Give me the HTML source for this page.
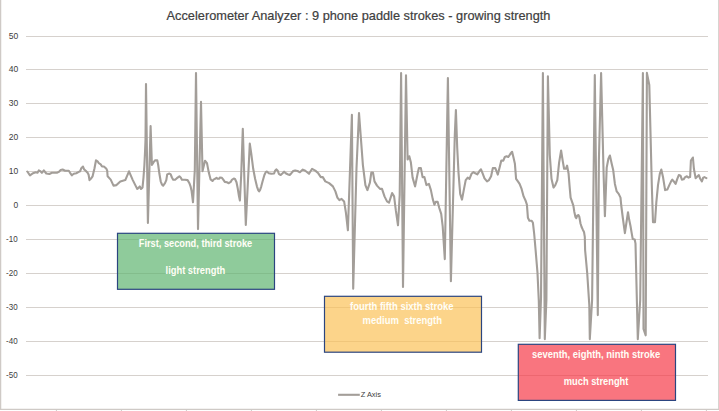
<!DOCTYPE html>
<html><head><meta charset="utf-8"><title>Accelerometer Analyzer</title>
<style>
html,body{margin:0;padding:0;background:#fff;overflow:hidden}
svg{display:block;font-family:"Liberation Sans",sans-serif}
</style></head>
<body>
<svg width="719" height="411" viewBox="0 0 719 411">
<rect width="719" height="411" fill="#fff"/>
<g stroke="#d6d1cd" stroke-width="1" shape-rendering="crispEdges"><line x1="26.3" x2="708" y1="36.5" y2="36.5"/><line x1="26.3" x2="708" y1="69.5" y2="69.5"/><line x1="26.3" x2="708" y1="103.5" y2="103.5"/><line x1="26.3" x2="708" y1="137.5" y2="137.5"/><line x1="26.3" x2="708" y1="171.5" y2="171.5"/><line x1="26.3" x2="708" y1="205.5" y2="205.5"/><line x1="26.3" x2="708" y1="239.5" y2="239.5"/><line x1="26.3" x2="708" y1="273.5" y2="273.5"/><line x1="26.3" x2="708" y1="307.5" y2="307.5"/><line x1="26.3" x2="708" y1="341.5" y2="341.5"/><line x1="26.3" x2="708" y1="375.5" y2="375.5"/></g>
<g stroke="#cfcac6" fill="none">
<line x1="0.6" x2="0.6" y1="0" y2="410" stroke-width="1.3"/>
<line x1="718.7" x2="718.7" y1="0" y2="410" stroke-width="1"/>
<line x1="0" x2="719" y1="409.3" y2="409.3" stroke-width="1.3"/>
<g stroke-width="1"><line x1="56.4" x2="56.4" y1="409" y2="411"/><line x1="121.4" x2="121.4" y1="409" y2="411"/><line x1="186.4" x2="186.4" y1="409" y2="411"/><line x1="251.4" x2="251.4" y1="409" y2="411"/><line x1="316.4" x2="316.4" y1="409" y2="411"/><line x1="381.4" x2="381.4" y1="409" y2="411"/><line x1="446.4" x2="446.4" y1="409" y2="411"/><line x1="511.4" x2="511.4" y1="409" y2="411"/><line x1="576.4" x2="576.4" y1="409" y2="411"/><line x1="641.4" x2="641.4" y1="409" y2="411"/><line x1="706.4" x2="706.4" y1="409" y2="411"/></g>
</g>
<text x="166.6" y="19.9" font-size="12.8" fill="#404040" stroke="#404040" stroke-width="0.2" textLength="383.8" lengthAdjust="spacingAndGlyphs">Accelerometer Analyzer : 9 phone paddle strokes - growing strength</text>
<g font-size="8.6" fill="#404040"><text x="8.8" y="39" textLength="9.5" lengthAdjust="spacingAndGlyphs">50</text><text x="8.8" y="72" textLength="9.5" lengthAdjust="spacingAndGlyphs">40</text><text x="8.8" y="106" textLength="9.5" lengthAdjust="spacingAndGlyphs">30</text><text x="8.8" y="140" textLength="9.5" lengthAdjust="spacingAndGlyphs">20</text><text x="8.8" y="174" textLength="9.5" lengthAdjust="spacingAndGlyphs">10</text><text x="13.6" y="208" textLength="4.7" lengthAdjust="spacingAndGlyphs">0</text><text x="6" y="242" textLength="11.6" lengthAdjust="spacingAndGlyphs">-10</text><text x="6" y="276" textLength="11.6" lengthAdjust="spacingAndGlyphs">-20</text><text x="6" y="310" textLength="11.6" lengthAdjust="spacingAndGlyphs">-30</text><text x="6" y="344" textLength="11.6" lengthAdjust="spacingAndGlyphs">-40</text><text x="6" y="378" textLength="11.6" lengthAdjust="spacingAndGlyphs">-50</text></g>
<polyline fill="none" stroke="#a39e99" stroke-width="2.1" stroke-linejoin="round" stroke-linecap="round" points="27.3,171.5 30.0,175.3 33.1,173.2 35.6,172.3 37.5,172.8 38.8,170.4 40.7,171.5 41.9,172.8 43.8,170.4 46.3,173.5 49.4,174.0 51.9,172.8 56.9,172.8 58.8,171.9 60.7,170.0 62.6,169.5 65.1,170.7 68.8,170.7 70.1,172.8 71.9,175.3 73.8,173.8 76.3,173.2 78.8,171.9 80.1,171.3 81.3,168.2 83.0,166.5 84.1,169.4 85.7,170.7 87.6,172.8 88.6,174.8 89.5,180.1 91.3,178.2 92.6,176.3 94.5,168.2 96.0,160.3 97.6,161.3 98.8,163.2 100.7,164.4 102.0,166.5 103.9,166.5 106.4,168.8 107.2,170.7 107.6,176.3 110.7,179.6 110.7,179.6 113.5,185.6 116.5,185.1 120.3,181.4 125.3,180.1 129.0,171.3 132.8,180.1 135.3,185.1 137.3,188.9 139.8,186.4 141.0,189.0 141.9,188.2 142.5,187.6 143.5,177.5 144.4,165.0 145.0,152.5 145.5,140.0 146.0,84.0 147.9,222.9 150.6,126.1 151.9,165.0 153.8,161.9 155.0,160.4 157.3,160.4 158.2,165.0 159.4,173.8 160.7,181.3 161.9,184.4 163.2,185.7 165.0,183.2 166.3,180.1 167.2,174.4 169.4,173.5 170.7,174.4 171.9,177.5 173.2,179.8 175.1,179.8 176.9,178.2 179.4,176.3 180.7,177.5 181.9,179.8 185.1,179.8 187.6,180.1 189.4,183.2 190.7,186.9 191.6,191.0 193.0,202.3 194.8,170.0 196.0,73.0 198.0,229.1 201.0,101.9 202.5,171.3 205.0,160.8 207.0,163.1 208.8,172.6 210.6,179.4 212.5,181.0 213.8,179.4 215.3,178.8 216.5,177.8 217.5,178.8 219.0,178.8 220.0,177.5 221.9,177.8 223.1,179.4 224.8,181.9 226.9,182.3 228.8,183.2 230.7,181.9 231.9,179.8 233.8,178.5 235.0,179.0 236.5,182.3 237.8,188.8 239.0,196.3 239.9,200.5 241.2,175.0 242.8,128.9 245.8,225.0 249.8,143.6 251.3,153.8 253.2,168.8 255.1,178.8 256.9,186.3 258.2,190.1 259.1,191.3 260.1,189.8 261.3,186.3 262.6,181.3 264.4,175.0 265.9,171.9 266.9,171.5 268.8,173.2 271.3,173.8 274.1,173.5 275.1,170.7 276.3,169.4 277.8,170.7 278.8,173.8 280.7,175.0 282.6,173.2 284.1,171.7 285.7,173.2 287.6,174.2 289.7,175.0 291.4,173.2 293.2,171.0 295.1,170.4 297.6,171.0 299.9,172.3 302.8,169.6 305.3,170.8 309.0,173.8 312.1,168.8 315.3,170.6 318.3,173.3 320.8,177.1 322.8,177.1 325.3,181.4 329.1,183.1 332.9,186.4 335.4,191.4 337.4,197.6 339.4,200.2 341.6,198.9 344.1,201.4 345.9,212.7 347.9,230.3 351.9,114.9 353.2,288.7 356.5,168.0 359.0,113.0 362.9,165.1 365.4,185.1 367.4,190.1 369.9,182.6 371.3,172.6 373.0,172.6 374.5,181.4 377.0,185.6 380.0,188.9 382.0,188.9 384.5,196.4 387.0,201.4 389.0,202.7 392.1,193.1 394.1,196.4 395.8,210.2 398.0,225.3 399.7,195.0 401.1,73.0 403.0,286.9 406.0,75.2 407.6,159.5 409.3,156.3 410.9,162.6 412.6,177.6 415.1,186.4 417.6,173.8 418.9,168.1 420.9,168.1 422.6,177.1 424.4,177.1 426.4,185.1 428.9,183.9 430.9,190.1 432.7,198.9 434.4,204.7 435.7,201.9 437.7,201.9 439.2,207.7 441.2,213.9 442.7,226.5 444.8,259.1 447.9,78.0 450.9,281.3 454.8,135.0 455.9,110.1 457.2,147.5 458.5,172.6 460.2,193.9 462.0,199.6 464.0,188.9 465.7,180.1 467.7,177.6 469.5,178.8 471.5,173.8 473.5,172.1 475.3,173.3 477.3,174.3 479.3,171.3 481.0,169.3 482.8,173.8 484.5,178.3 487.0,181.4 489.0,180.1 491.1,176.3 492.8,168.1 495.3,168.1 496.6,171.3 497.8,174.6 499.6,167.6 501.3,160.6 503.3,160.6 504.8,157.0 506.6,156.3 508.3,157.0 510.4,153.8 512.1,151.8 513.6,158.0 514.9,163.8 516.1,178.8 517.9,181.4 519.6,183.9 521.6,188.9 523.6,196.4 525.4,200.2 526.9,204.7 527.9,217.7 529.4,220.7 531.7,220.7 532.9,222.7 534.2,234.0 535.6,250.0 537.5,273.0 538.8,301.0 539.6,338.3 541.0,298.0 542.9,73.0 544.8,339.1 546.4,300.0 547.9,76.2 549.8,155.0 551.5,178.8 553.5,187.6 555.3,185.1 557.3,180.1 559.1,162.6 561.1,150.5 562.8,161.3 564.1,168.8 565.8,168.8 567.1,165.6 568.6,173.8 569.6,186.4 570.6,197.6 572.6,203.4 573.4,205.9 574.3,211.7 575.4,216.8 576.3,218.1 577.3,215.4 578.5,215.1 579.3,216.8 580.5,223.5 581.5,226.8 582.7,229.4 584.0,231.9 584.8,236.9 585.1,250.0 587.2,273.0 589.3,305.0 589.8,339.1 592.1,300.0 594.8,75.0 597.8,315.1 598.9,160.0 601.1,73.0 603.7,177.6 604.9,216.1 606.7,167.6 608.4,158.8 609.9,155.5 611.7,163.8 613.2,170.1 614.9,183.9 616.7,191.4 618.7,193.9 620.5,197.6 621.2,205.0 622.9,218.5 624.9,233.1 626.3,223.5 628.0,212.2 629.1,219.3 630.5,226.0 631.6,232.7 632.7,238.9 634.7,239.4 635.5,243.6 637.8,339.1 640.2,300.0 642.9,73.0 643.5,329.0 645.7,335.3 646.9,72.9 649.3,85.0 651.8,185.1 653.0,222.2 655.0,222.2 656.3,202.7 658.0,185.1 659.8,173.8 661.3,169.6 663.1,177.6 665.1,190.1 667.3,189.6 669.3,185.1 671.1,181.4 672.3,179.6 673.8,181.4 675.6,183.9 677.3,178.8 678.8,175.1 680.6,175.8 681.9,179.6 683.6,179.3 685.1,177.1 686.9,176.3 688.6,177.6 690.1,177.1 690.9,160.6 692.9,157.5 693.9,168.8 695.6,178.1 697.6,176.3 698.9,175.1 700.2,178.8 701.9,181.4 703.2,177.6 704.4,177.1 706.4,178.1"/>
<g font-size="10" font-weight="bold" fill="#fffef6" style="white-space:pre"><rect x="117.5" y="233.3" width="157" height="56" fill="#5fb570" fill-opacity="0.7" stroke="#2b4580" stroke-width="1.2"/><text x="138.8" y="247" textLength="113.4" lengthAdjust="spacingAndGlyphs">First, second, third stroke</text><text x="165.6" y="273.8" textLength="59.6" lengthAdjust="spacingAndGlyphs">light strength</text><rect x="324.5" y="296.3" width="157" height="55.9" fill="#fbc258" fill-opacity="0.7" stroke="#2b4580" stroke-width="1.2"/><text x="350" y="310" textLength="103.5" lengthAdjust="spacingAndGlyphs">fourth fifth sixth stroke</text><text x="362.6" y="323.8" textLength="79.4" lengthAdjust="spacingAndGlyphs">medium&#160; strength</text><rect x="518.3" y="344.3" width="157.2" height="56.1" fill="#f63a48" fill-opacity="0.7" stroke="#2b4580" stroke-width="1.2"/><text x="532" y="358" textLength="128.2" lengthAdjust="spacingAndGlyphs">seventh, eighth, ninth stroke</text><text x="563.8" y="384.8" textLength="64.6" lengthAdjust="spacingAndGlyphs">much strenght</text></g>
<line x1="338.1" x2="359.8" y1="394.8" y2="394.8" stroke="#a39e99" stroke-width="2.1"/>
<text x="360.7" y="396.9" font-size="7.8" fill="#404040" textLength="20.3" lengthAdjust="spacingAndGlyphs">Z Axis</text>
</svg>
</body></html>
